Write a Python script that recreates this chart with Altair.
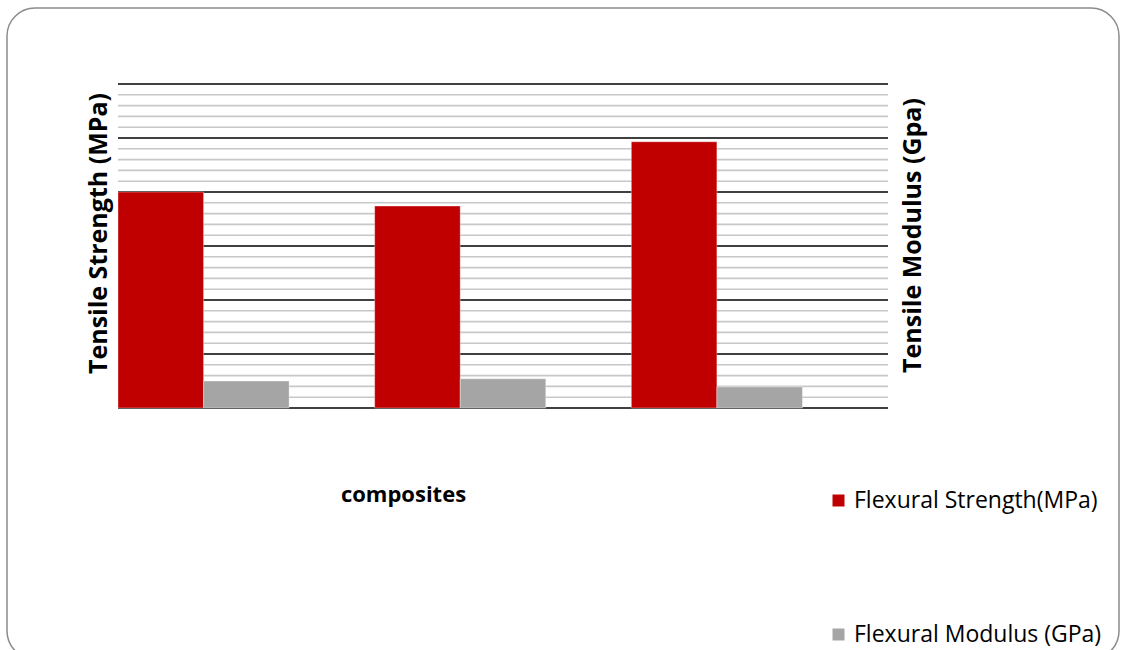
import altair as alt
import pandas as pd

# ---- data ----
composites = ["C1", "C2", "C3"]
flexural_strength = [40.0, 37.4, 49.3]
flexural_modulus = [5.0, 5.4, 3.9]
series = ["Flexural Strength(MPa)", "Flexural Modulus (GPa)"]
series_colors = ["#C00000", "#A5A5A5"]
minor_grid = [2, 4, 6, 8, 12, 14, 16, 18, 22, 24, 26, 28, 32, 34, 36, 38, 42, 44, 46, 48, 52, 54, 56, 58]
major_grid = [0, 10, 20, 30, 40, 50, 60]

rows = []
for c, s, m in zip(composites, flexural_strength, flexural_modulus):
    rows.append({"composite": c, "series": series[0], "value": s})
    rows.append({"composite": c, "series": series[1], "value": m})
df = pd.DataFrame(rows)

W, H = 770, 324
FONT = "Open Sans"
yscale = alt.Scale(domain=[0, 60], nice=False, zero=True)

minor = alt.Chart(pd.DataFrame({"g": minor_grid})).mark_rule(
    color="#c8c8c8", strokeWidth=1.6
).encode(y=alt.Y("g:Q", scale=yscale, axis=None))

major = alt.Chart(pd.DataFrame({"g": major_grid})).mark_rule(
    color="#000000", strokeWidth=1.4
).encode(
    y=alt.Y(
        "g:Q",
        scale=yscale,
        axis=alt.Axis(
            orient="right", labels=False, ticks=False, domain=False, grid=False,
            title="Tensile Modulus (Gpa)", titleFont=FONT, titleFontSize=25,
            titleFontWeight="bold", titleColor="#000000", titleAngle=270,
            titleX=24, titleY=151, titleAlign="center", titleBaseline="middle",
        ),
    )
)

bars = alt.Chart(df).mark_bar(stroke="#ffffff", strokeWidth=0.6, strokeOpacity=0.6).encode(
    x=alt.X(
        "composite:N",
        sort=composites,
        scale=alt.Scale(domain=composites, paddingInner=0, paddingOuter=0),
        axis=alt.Axis(
            labels=False, ticks=False, domain=False, grid=False,
            title="composites", titleFont=FONT, titleFontSize=22,
            titleFontWeight="bold", titleColor="#000000",
            titleX=285, titleY=86, titleAlign="center", titleBaseline="middle",
        ),
    ),
    xOffset=alt.XOffset(
        "series:N",
        scale=alt.Scale(domain=series + [" "], paddingInner=0, paddingOuter=0),
    ),
    y=alt.Y(
        "value:Q",
        scale=yscale,
        axis=alt.Axis(
            orient="left", labels=False, ticks=False, domain=False, grid=False,
            title="Tensile Strength (MPa)", titleFont=FONT, titleFontSize=25,
            titleFontWeight="bold", titleColor="#000000", titleAngle=270,
            titleX=-20, titleY=149, titleAlign="center", titleBaseline="middle",
        ),
    ),
    color=alt.Color(
        "series:N",
        scale=alt.Scale(domain=series, range=series_colors),
        legend=alt.Legend(
            title=None, orient="none", legendX=709, legendY=405,
            symbolType="square", symbolSize=144, symbolStrokeWidth=0,
            labelFont=FONT, labelFontSize=23, labelColor="#000000",
            labelOffset=4, rowPadding=110, labelLimit=400,
        ),
    ),
)

border = alt.Chart(pd.DataFrame({"a": [0]})).mark_rect(
    fillOpacity=0, stroke="#8c8c8c", strokeWidth=1.5, cornerRadius=28
).encode(
    x=alt.value(-111), x2=alt.value(1001), y=alt.value(-76), y2=alt.value(575)
)

chart = alt.layer(minor, major, bars, border).properties(
    width=W, height=H,
    autosize=alt.AutoSizeParams(type="none"),
    padding={"left": 118, "top": 84, "right": 238, "bottom": 242},
    background="#ffffff",
).configure_view(stroke=None)

chart.save("out.html", embed_options={"renderer": "svg", "actions": False})
